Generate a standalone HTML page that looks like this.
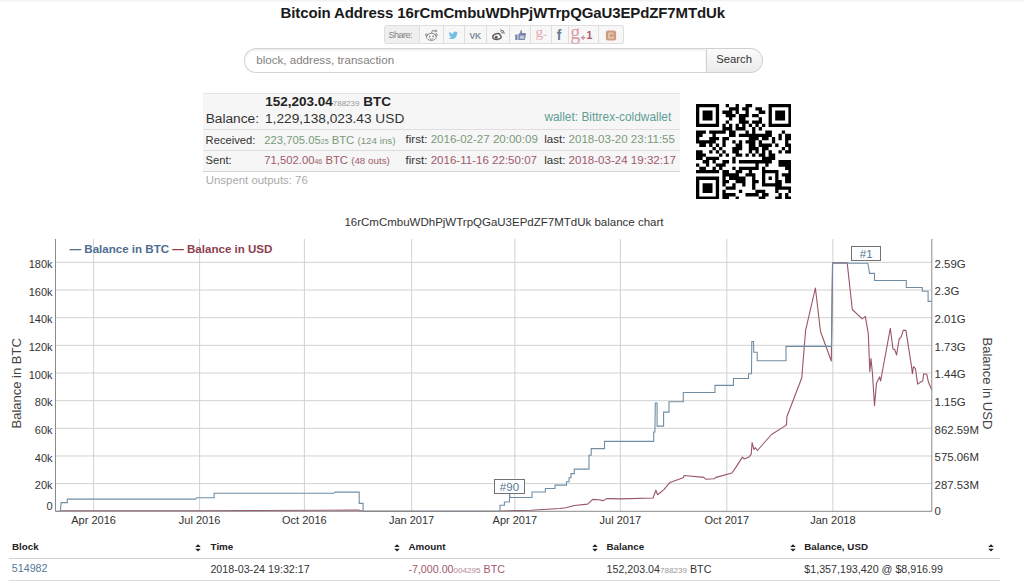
<!DOCTYPE html>
<html><head><meta charset="utf-8"><style>
html,body{margin:0;padding:0;background:#fff;}
.topband{position:absolute;left:0;top:0;width:1024px;height:2px;background:linear-gradient(#f1f1f1,#fafafa);}
body{width:1024px;height:585px;overflow:hidden;position:relative;font-family:"Liberation Sans",sans-serif;color:#333;}
.t{position:absolute;white-space:nowrap;line-height:1;}
.chart{position:absolute;left:0;top:0;}
.al{text-align:right;color:#333;}
.xl{width:80px;text-align:center;color:#333;}
.rotl{transform:rotate(-90deg);text-align:center;color:#444;}
.rotr{transform:rotate(90deg);text-align:center;color:#444;}
.share{position:absolute;left:383.5px;top:25.3px;height:18px;display:flex;}
.share div{height:16.5px;border:1px solid #dedede;border-left:none;background:#f7f7f7;box-sizing:content-box;}
.share div:first-child{border-left:1px solid #dedede;border-radius:3px 0 0 3px;background:#efefef;}
.share div:last-child{border-radius:0 3px 3px 0;}
.inp{position:absolute;left:244.3px;top:48.3px;width:461px;height:22.5px;border:1px solid #d4d4d4;border-right:none;border-radius:12px 0 0 12px;background:#fff;box-shadow:inset 0 1.5px 2px rgba(0,0,0,0.07);}
.btn{position:absolute;left:705.6px;top:48.3px;width:55.5px;height:22.5px;border:1px solid #cfcfcf;border-radius:0 12px 12px 0;background:linear-gradient(#fbfbfb,#ececec);}
.info{position:absolute;left:202.5px;top:92.5px;width:477.3px;height:78.5px;background:#f6f6f6;border-top:1px solid #e6e6e6;}
.hr{position:absolute;left:202.5px;width:477.3px;height:1px;background:#dedede;}
.qr{position:absolute;left:695.6px;top:103.8px;}
.tbl-h{position:absolute;left:9.3px;top:557.6px;width:990.5px;height:1.6px;background:#d2d2d2;}
.tbl-b{position:absolute;left:9.3px;top:579.5px;width:990.5px;height:1px;background:#dcdcdc;}
.sortic{position:absolute;}
.ann{position:absolute;width:28.5px;height:12.8px;border:1px solid #727272;background:#fbfdff;color:#5c7692;font-size:11.5px;line-height:15.8px;text-align:center;overflow:hidden;}
.icons{position:absolute;left:383px;top:25px;}
</style></head><body>
<div class="topband"></div>
<div class="t " style="left:280.60px;top:4.70px;font-size:15px;font-weight:bold;color:#1a1a1a;letter-spacing:-0.12px">Bitcoin Address 16rCmCmbuWDhPjWTrpQGaU3EPdZF7MTdUk</div>
<div class="share"><div style="width:34.8px"></div><div style="width:22.5px"></div><div style="width:20.5px"></div><div style="width:21.2px"></div><div style="width:21.5px"></div><div style="width:20.4px"></div><div style="width:20.0px"></div><div style="width:16.1px"></div><div style="width:28.9px"></div><div style="width:23.5px"></div></div>
<div class="t " style="left:388.40px;top:30.91px;font-size:9.2px;color:#808080;letter-spacing:-0.6px">Share:</div>
<svg class="icons" width="241" height="19" viewBox="383 25 241 19">
<g fill="none" stroke="#7e7e7e" stroke-width="0.9">
<ellipse cx="431.4" cy="36.9" rx="4.9" ry="3.5" fill="#fff"/>
<circle cx="426.6" cy="34.9" r="1.1"/><circle cx="436.2" cy="34.9" r="1.1"/>
<path d="M431.6 33.4L432.4 30.4L435 31"/><circle cx="435.9" cy="31" r="0.9"/>
<path d="M429.6 38.6Q431.4 39.8 433.2 38.6"/>
</g>
<circle cx="429.6" cy="36.4" r="0.9" fill="#7e7e7e"/><circle cx="433.2" cy="36.4" r="0.9" fill="#7e7e7e"/>
<path transform="translate(448.6 30.6) scale(0.39)" fill="#74bfe6" d="M23.95 4.57a10 10 0 0 1-2.82.77 4.96 4.96 0 0 0 2.16-2.72c-.95.56-2 .96-3.13 1.18a4.92 4.92 0 0 0-8.38 4.49C7.69 8.1 4.07 6.13 1.64 3.16a4.82 4.82 0 0 0-.67 2.48c0 1.71.87 3.21 2.19 4.1a4.9 4.9 0 0 1-2.23-.62v.06a4.92 4.92 0 0 0 3.95 4.83 5 5 0 0 1-2.21.08 4.94 4.94 0 0 0 4.6 3.42A9.87 9.87 0 0 1 0 19.54a14 14 0 0 0 7.56 2.21c9.05 0 14-7.5 14-13.98 0-.21 0-.42-.02-.63A9.94 9.94 0 0 0 24 4.59z"/>
<text x="469.6" y="39.2" font-family="Liberation Sans" font-weight="bold" font-size="8.6" fill="#808c99" letter-spacing="-0.3">VK</text>
<g fill="none" stroke="#5c5c5c" stroke-width="1.4">
<path d="M500.6 34.6C498.6 32.2 492.2 34 492.8 37.4C493.4 40.4 500.6 40 501.2 37.2C501.5 35.8 500.3 35.3 499.6 35.6"/>
<path d="M500.5 31.6Q502.6 31.6 502.8 33.6" stroke-width="0.9"/><path d="M500.3 29.8Q504.3 29.8 504.3 33.8" stroke-width="0.9"/>
</g>
<circle cx="496.2" cy="37.3" r="1.5" fill="#5c5c5c"/>
<path fill="#7887ad" d="M515.2 34.4h2.4v5.7h-2.4z M518.4 34.5L520.3 32.2L520.6 29.9Q522.4 29.9 522 32.9H525.3Q526.4 33.2 525.8 35L525.1 39.2Q524.7 40.2 523.5 40.1H518.4z"/>
<path fill="#fff" opacity="0.55" d="M519.9 35.6h4.3v3.2h-4.3z"/>
<text x="535.4" y="37.2" font-family="Liberation Serif" font-size="15.5" fill="#e3a9b1">g</text>
<path d="M543.4 35.2h3.2" stroke="#e3b0b6" stroke-width="1"/>
<text x="556.8" y="40" font-family="Liberation Sans" font-weight="bold" font-size="13.8" fill="#6a7b92">f</text>
<text x="570.3" y="39.4" font-family="Liberation Serif" font-size="20" fill="#d99ea6">g</text>
<path d="M580.8 37.6h4.6M583.1 35.3v4.6" stroke="#c98a94" stroke-width="1.1"/>
<text x="586.4" y="39.4" font-family="Liberation Sans" font-weight="bold" font-size="10.5" fill="#b05866">1</text>
<rect x="605.9" y="30.4" width="10.2" height="10.1" rx="2" fill="#cf9b7e"/>
<path d="M609 33h2.6q1.4 0 1.4 1.3v0.4M609 33v5h4.2v-1.7" fill="none" stroke="#f3dccd" stroke-width="1.1"/>
</svg>
<div class="inp"></div><div class="btn"></div>
<div class="t " style="left:256.20px;top:54.48px;font-size:11.6px;color:#828282">block, address, transaction</div>
<div class="t " style="left:716.20px;top:54.33px;font-size:11.3px;color:#333">Search</div>
<div class="info"></div>
<div class="hr" style="top:129px"></div><div class="hr" style="top:150px"></div><div class="hr" style="top:170.5px;background:#d6d6d6"></div>
<div class="t " style="left:265.20px;top:95.27px;font-size:13.5px;font-weight:bold;color:#222">152,203.04<span style="font-size:8px;font-weight:normal;color:#999">788239</span> BTC</div>
<div class="t " style="left:205.70px;top:112.00px;font-size:13.7px;color:#333">Balance:</div>
<div class="t " style="left:265.00px;top:112.00px;font-size:13.7px;color:#333">1,229,138,023.43 USD</div>
<div class="t " style="left:544.40px;top:111.63px;font-size:11.9px;color:#5f9e96">wallet: Bittrex-coldwallet</div>
<div class="t " style="left:205.60px;top:134.62px;font-size:11.2px;color:#333">Received:</div>
<div class="t " style="left:264.20px;top:134.53px;font-size:11.3px;"><span style="color:#7a9a7a">223,705.05<span style="font-size:7px">25</span> BTC <span style="font-size:9.8px">(124 ins)</span></span></div>
<div class="t " style="left:405.60px;top:134.32px;font-size:11.55px;color:#333">first: <span style="color:#7a9a7a">2016-02-27 20:00:09</span></div>
<div class="t " style="left:544.20px;top:134.32px;font-size:11.55px;color:#333">last: <span style="color:#7a9a7a">2018-03-20 23:11:55</span></div>
<div class="t " style="left:205.60px;top:155.02px;font-size:11.2px;color:#333">Sent:</div>
<div class="t " style="left:264.20px;top:154.93px;font-size:11.3px;"><span style="color:#a05a6a">71,502.00<span style="font-size:7px">46</span> BTC <span style="font-size:9.8px">(48 outs)</span></span></div>
<div class="t " style="left:405.60px;top:154.72px;font-size:11.55px;color:#333">first: <span style="color:#a05a6a">2016-11-16 22:50:07</span></div>
<div class="t " style="left:544.20px;top:154.72px;font-size:11.55px;color:#333">last: <span style="color:#a05a6a">2018-03-24 19:32:17</span></div>
<div class="t " style="left:205.80px;top:175.05px;font-size:11.4px;color:#aaa">Unspent outputs: 76</div>
<svg class="qr" width="95.7" height="95.7" viewBox="0 0 29 29"><path d="M0 0h7v1h-7zM9 0h1v1h-1zM12 0h1v1h-1zM15 0h2v1h-2zM22 0h7v1h-7zM0 1h1v1h-1zM6 1h1v1h-1zM10 1h3v1h-3zM14 1h2v1h-2zM18 1h2v1h-2zM22 1h1v1h-1zM28 1h1v1h-1zM0 2h1v1h-1zM2 2h3v1h-3zM6 2h1v1h-1zM8 2h3v1h-3zM12 2h1v1h-1zM15 2h1v1h-1zM19 2h2v1h-2zM22 2h1v1h-1zM24 2h3v1h-3zM28 2h1v1h-1zM0 3h1v1h-1zM2 3h3v1h-3zM6 3h1v1h-1zM9 3h3v1h-3zM13 3h3v1h-3zM17 3h2v1h-2zM22 3h1v1h-1zM24 3h3v1h-3zM28 3h1v1h-1zM0 4h1v1h-1zM2 4h3v1h-3zM6 4h1v1h-1zM10 4h1v1h-1zM13 4h2v1h-2zM19 4h1v1h-1zM22 4h1v1h-1zM24 4h3v1h-3zM28 4h1v1h-1zM0 5h1v1h-1zM6 5h1v1h-1zM9 5h1v1h-1zM13 5h3v1h-3zM17 5h3v1h-3zM22 5h1v1h-1zM28 5h1v1h-1zM0 6h7v1h-7zM8 6h1v1h-1zM10 6h1v1h-1zM12 6h1v1h-1zM14 6h1v1h-1zM16 6h1v1h-1zM18 6h1v1h-1zM20 6h1v1h-1zM22 6h7v1h-7zM8 7h3v1h-3zM12 7h3v1h-3zM17 7h1v1h-1zM19 7h1v1h-1zM0 8h3v1h-3zM4 8h5v1h-5zM10 8h2v1h-2zM15 8h1v1h-1zM17 8h1v1h-1zM21 8h2v1h-2zM26 8h1v1h-1zM0 9h2v1h-2zM5 9h1v1h-1zM10 9h2v1h-2zM13 9h10v1h-10zM25 9h1v1h-1zM27 9h2v1h-2zM0 10h1v1h-1zM4 10h3v1h-3zM8 10h2v1h-2zM16 10h3v1h-3zM20 10h2v1h-2zM23 10h1v1h-1zM25 10h1v1h-1zM27 10h2v1h-2zM0 11h6v1h-6zM8 11h1v1h-1zM11 11h1v1h-1zM13 11h1v1h-1zM15 11h3v1h-3zM19 11h1v1h-1zM23 11h1v1h-1zM27 11h1v1h-1zM1 12h2v1h-2zM4 12h1v1h-1zM6 12h1v1h-1zM8 12h1v1h-1zM12 12h2v1h-2zM16 12h2v1h-2zM19 12h4v1h-4zM24 12h1v1h-1zM27 12h2v1h-2zM5 13h1v1h-1zM7 13h1v1h-1zM11 13h3v1h-3zM16 13h3v1h-3zM20 13h2v1h-2zM26 13h1v1h-1zM28 13h1v1h-1zM0 14h2v1h-2zM4 14h1v1h-1zM6 14h1v1h-1zM8 14h1v1h-1zM11 14h2v1h-2zM16 14h1v1h-1zM18 14h1v1h-1zM20 14h1v1h-1zM22 14h1v1h-1zM25 14h1v1h-1zM27 14h2v1h-2zM0 15h3v1h-3zM7 15h1v1h-1zM9 15h1v1h-1zM12 15h2v1h-2zM15 15h1v1h-1zM17 15h1v1h-1zM19 15h2v1h-2zM22 15h2v1h-2zM0 16h2v1h-2zM3 16h4v1h-4zM11 16h1v1h-1zM20 16h4v1h-4zM2 17h2v1h-2zM5 17h1v1h-1zM8 17h2v1h-2zM11 17h1v1h-1zM13 17h10v1h-10zM25 17h4v1h-4zM0 18h1v1h-1zM3 18h1v1h-1zM6 18h3v1h-3zM18 18h1v1h-1zM21 18h1v1h-1zM25 18h4v1h-4zM1 19h2v1h-2zM5 19h1v1h-1zM7 19h1v1h-1zM11 19h1v1h-1zM13 19h6v1h-6zM20 19h1v1h-1zM27 19h2v1h-2zM0 20h7v1h-7zM8 20h2v1h-2zM12 20h2v1h-2zM16 20h1v1h-1zM20 20h5v1h-5zM28 20h1v1h-1zM8 21h5v1h-5zM15 21h3v1h-3zM20 21h1v1h-1zM24 21h1v1h-1zM26 21h3v1h-3zM0 22h7v1h-7zM8 22h1v1h-1zM10 22h5v1h-5zM17 22h1v1h-1zM20 22h1v1h-1zM22 22h1v1h-1zM24 22h1v1h-1zM27 22h2v1h-2zM0 23h1v1h-1zM6 23h1v1h-1zM8 23h2v1h-2zM12 23h3v1h-3zM17 23h2v1h-2zM20 23h1v1h-1zM24 23h2v1h-2zM27 23h2v1h-2zM0 24h1v1h-1zM2 24h3v1h-3zM6 24h1v1h-1zM8 24h1v1h-1zM11 24h1v1h-1zM14 24h1v1h-1zM17 24h1v1h-1zM20 24h6v1h-6zM0 25h1v1h-1zM2 25h3v1h-3zM6 25h1v1h-1zM9 25h3v1h-3zM17 25h1v1h-1zM24 25h5v1h-5zM0 26h1v1h-1zM2 26h3v1h-3zM6 26h1v1h-1zM8 26h1v1h-1zM13 26h1v1h-1zM18 26h3v1h-3zM24 26h1v1h-1zM28 26h1v1h-1zM0 27h1v1h-1zM6 27h1v1h-1zM8 27h4v1h-4zM15 27h4v1h-4zM20 27h2v1h-2zM25 27h1v1h-1zM27 27h1v1h-1zM0 28h7v1h-7zM8 28h2v1h-2zM12 28h1v1h-1zM19 28h2v1h-2zM24 28h2v1h-2zM27 28h2v1h-2z" fill="#000"/></svg>
<svg class="chart" width="1024" height="585" viewBox="0 0 1024 585">
<path d="M55.5 483.64H931.8M55.5 455.98H931.8M55.5 428.32H931.8M55.5 400.66H931.8M55.5 373.00H931.8M55.5 345.34H931.8M55.5 317.68H931.8M55.5 290.02H931.8M55.5 262.36H931.8M93.60 239.0V511.3M199.60 239.0V511.3M304.40 239.0V511.3M411.60 239.0V511.3M514.90 239.0V511.3M620.40 239.0V511.3M726.80 239.0V511.3M832.90 239.0V511.3" stroke="#d2d2d2" stroke-width="1" fill="none"/>
<path d="M60.5 510.8 L200.0 510.7 L330.0 510.3 L358.0 510.0 L363.0 511.2 L500.5 511.0 L530.8 510.2 L560.0 508.5 L565.8 507.7 L574.5 505.5 L587.6 504.1 L592.7 499.4 L598.5 499.7 L603.6 500.6 L606.5 498.6 L621.0 498.9 L653.0 498.0 L655.9 490.3 L657.6 494.7 L663.9 489.6 L670.0 482.4 L683.2 477.7 L684.1 475.5 L703.8 477.4 L705.7 479.2 L714.2 478.7 L716.0 477.4 L732.0 473.0 L735.8 467.4 L742.4 457.1 L744.2 458.9 L749.0 457.1 L751.2 454.2 L752.1 442.6 L754.0 449.5 L755.5 447.7 L757.4 450.5 L771.5 434.5 L784.7 426.1 L786.5 424.7 L786.9 416.7 L801.8 377.7 L805.6 330.3 L815.4 288.0 L820.5 331.5 L831.3 361.0 L832.6 262.9 L847.2 262.9 L852.3 309.5 L862.2 318.9 L865.3 316.4 L868.3 333.8 L869.8 371.8 L871.0 358.5 L872.4 372.8 L874.5 405.6 L876.5 383.1 L879.6 376.9 L880.6 381.0 L890.3 328.3 L893.0 349.2 L894.6 349.2 L896.6 355.0 L899.1 339.0 L901.2 336.9 L903.2 330.4 L905.9 330.4 L911.4 365.6 L912.4 373.8 L913.5 366.7 L915.5 368.7 L917.6 384.1 L920.6 382.0 L922.7 381.0 L923.7 373.8 L926.8 374.3 L928.4 382.0 L931.9 390.3" stroke="#9a5565" stroke-width="1.1" fill="none" stroke-linejoin="round"/>
<path d="M55.6 511.2 L60.3 511.2 L61.2 502.6 L67.3 502.6 L67.3 499.1 L195.5 499.1 L197.0 497.7 L214.1 497.7 L214.1 493.3 L333.8 493.3 L335.0 492.1 L359.2 492.1 L359.2 503.4 L363.1 503.4 L363.1 511.2 L500.0 511.2 L500.0 505.3 L504.4 505.3 L504.4 502.0 L509.5 502.0 L509.5 493.0 L510.0 497.5 L532.0 497.5 L532.0 492.0 L545.4 492.0 L545.4 488.5 L555.0 488.5 L555.0 485.1 L566.5 485.1 L566.5 481.7 L569.1 481.7 L569.1 477.8 L571.0 477.8 L571.0 473.6 L574.3 473.6 L574.3 469.1 L589.0 469.1 L589.0 455.3 L591.2 455.3 L591.2 448.6 L604.5 448.6 L604.5 441.4 L653.7 441.4 L653.7 432.0 L654.9 432.0 L655.3 403.0 L657.1 403.0 L657.1 426.1 L663.6 426.1 L663.6 412.1 L669.0 412.1 L669.0 401.8 L683.3 401.8 L683.3 392.5 L715.0 392.5 L715.0 385.4 L733.4 385.4 L733.4 378.5 L748.5 378.5 L748.5 373.8 L751.5 373.8 L751.8 341.5 L753.5 341.5 L753.8 352.3 L757.2 352.3 L757.2 360.7 L786.0 360.7 L786.0 346.4 L831.5 346.4 L832.5 263.3 L867.8 263.3 L868.5 267.0 L869.5 273.4 L874.5 273.4 L874.5 280.5 L906.3 280.5 L906.3 287.5 L922.3 287.5 L922.3 291.3 L928.1 291.3 L928.1 301.4 L931.5 301.4" stroke="#6f8ea5" stroke-width="1.1" fill="none"/>
<path d="M55.5 239.0V511.3H931.8V239.0" stroke="#8a8a8a" stroke-width="1" fill="none"/>
</svg>
<div class="t al" style="right:971.4px;top:501.29px;font-size:11px">0</div>
<div class="t al" style="right:971.4px;top:480.23px;font-size:11px">20k</div>
<div class="t al" style="right:971.4px;top:452.57px;font-size:11px">40k</div>
<div class="t al" style="right:971.4px;top:424.91px;font-size:11px">60k</div>
<div class="t al" style="right:971.4px;top:397.25px;font-size:11px">80k</div>
<div class="t al" style="right:971.4px;top:369.59px;font-size:11px">100k</div>
<div class="t al" style="right:971.4px;top:341.93px;font-size:11px">120k</div>
<div class="t al" style="right:971.4px;top:314.27px;font-size:11px">140k</div>
<div class="t al" style="right:971.4px;top:286.61px;font-size:11px">160k</div>
<div class="t al" style="right:971.4px;top:258.95px;font-size:11px">180k</div>
<div class="t " style="left:934.60px;top:506.15px;font-size:11.4px;color:#333">0</div>
<div class="t " style="left:934.60px;top:479.89px;font-size:11.4px;color:#333">287.53M</div>
<div class="t " style="left:934.60px;top:452.23px;font-size:11.4px;color:#333">575.06M</div>
<div class="t " style="left:934.60px;top:424.57px;font-size:11.4px;color:#333">862.59M</div>
<div class="t " style="left:934.60px;top:396.91px;font-size:11.4px;color:#333">1.15G</div>
<div class="t " style="left:934.60px;top:369.25px;font-size:11.4px;color:#333">1.44G</div>
<div class="t " style="left:934.60px;top:341.59px;font-size:11.4px;color:#333">1.73G</div>
<div class="t " style="left:934.60px;top:313.93px;font-size:11.4px;color:#333">2.01G</div>
<div class="t " style="left:934.60px;top:286.27px;font-size:11.4px;color:#333">2.3G</div>
<div class="t " style="left:934.60px;top:258.61px;font-size:11.4px;color:#333">2.59G</div>
<div class="t xl" style="left:53.6px;top:514.69px;font-size:11px">Apr 2016</div>
<div class="t xl" style="left:159.6px;top:514.69px;font-size:11px">Jul 2016</div>
<div class="t xl" style="left:264.4px;top:514.69px;font-size:11px">Oct 2016</div>
<div class="t xl" style="left:371.6px;top:514.69px;font-size:11px">Jan 2017</div>
<div class="t xl" style="left:474.9px;top:514.69px;font-size:11px">Apr 2017</div>
<div class="t xl" style="left:580.4px;top:514.69px;font-size:11px">Jul 2017</div>
<div class="t xl" style="left:686.8px;top:514.69px;font-size:11px">Oct 2017</div>
<div class="t xl" style="left:792.9px;top:514.69px;font-size:11px">Jan 2018</div>
<div class="t rotl" style="left:-28.6px;top:377.0px;font-size:13px;width:90px">Balance in BTC</div>
<div class="t rotr" style="left:941.6px;top:375.5px;font-size:13px;width:90px">Balance in USD</div>
<div class="t " style="left:69.60px;top:243.52px;font-size:11.55px;font-weight:bold"><span style="color:#4d6e90">&#8212; Balance in BTC</span> <span style="color:#8e4050">&#8212; Balance in USD</span></div>
<div class="ann" style="left:494.2px;top:479.1px">#90</div><div class="ann" style="left:850.9px;top:246.2px">#1</div>
<div class="t " style="left:344.40px;top:217.07px;font-size:11.5px;color:#333">16rCmCmbuWDhPjWTrpQGaU3EPdZF7MTdUk balance chart</div>
<div class="tbl-h"></div><div class="tbl-b"></div>
<div class="t " style="left:12.00px;top:542.00px;font-size:9.8px;font-weight:bold;color:#222">Block</div>
<div class="t " style="left:210.60px;top:542.00px;font-size:9.8px;font-weight:bold;color:#222">Time</div>
<div class="t " style="left:408.40px;top:542.00px;font-size:9.8px;font-weight:bold;color:#222">Amount</div>
<div class="t " style="left:606.50px;top:542.00px;font-size:9.8px;font-weight:bold;color:#222">Balance</div>
<div class="t " style="left:804.30px;top:542.00px;font-size:9.8px;font-weight:bold;color:#222">Balance, USD</div>
<svg class="sortic" style="left:195.3px;top:543.5px" width="6" height="8" viewBox="0 0 6 8"><path d="M3 0.3L5.8 3.1H0.2z M0.2 4.7H5.8L3 7.6z" fill="#222"/></svg><svg class="sortic" style="left:393.8px;top:543.5px" width="6" height="8" viewBox="0 0 6 8"><path d="M3 0.3L5.8 3.1H0.2z M0.2 4.7H5.8L3 7.6z" fill="#222"/></svg><svg class="sortic" style="left:592.1px;top:543.5px" width="6" height="8" viewBox="0 0 6 8"><path d="M3 0.3L5.8 3.1H0.2z M0.2 4.7H5.8L3 7.6z" fill="#222"/></svg><svg class="sortic" style="left:790.3px;top:543.5px" width="6" height="8" viewBox="0 0 6 8"><path d="M3 0.3L5.8 3.1H0.2z M0.2 4.7H5.8L3 7.6z" fill="#222"/></svg><svg class="sortic" style="left:987.8px;top:543.5px" width="6" height="8" viewBox="0 0 6 8"><path d="M3 0.3L5.8 3.1H0.2z M0.2 4.7H5.8L3 7.6z" fill="#222"/></svg><div class="t " style="left:11.80px;top:563.44px;font-size:10.7px;color:#56789c">514982</div>
<div class="t " style="left:210.40px;top:563.64px;font-size:10.7px;color:#333">2018-03-24 19:32:17</div>
<div class="t " style="left:408.40px;top:563.64px;font-size:10.7px;color:#a05a6a">-7,000.00<span style="font-size:8.1px;color:#b58a96">004295</span> BTC</div>
<div class="t " style="left:606.50px;top:563.64px;font-size:10.7px;color:#333">152,203.04<span style="font-size:8.1px;color:#999">788239</span> BTC</div>
<div class="t " style="left:804.30px;top:563.64px;font-size:10.7px;color:#333">$1,357,193,420 @ $8,916.99</div>
</body></html>
